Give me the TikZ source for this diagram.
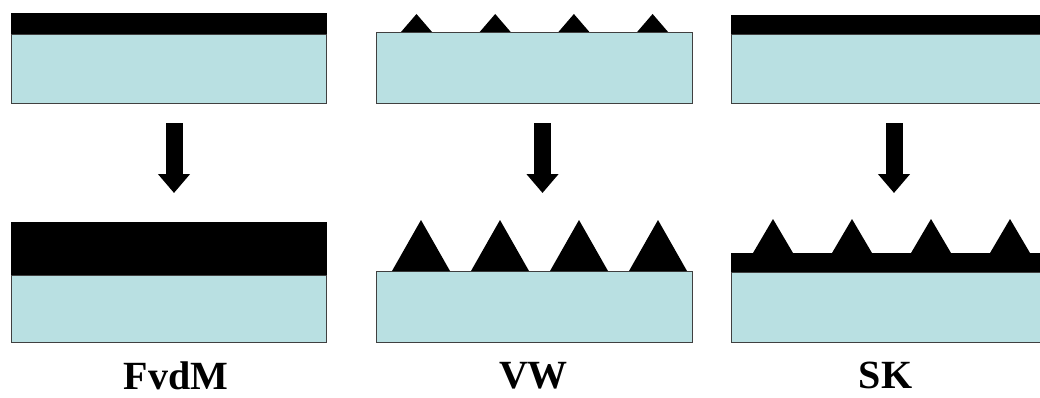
\documentclass[tikz,border=0pt]{standalone}
\usepackage{fontspec}
\setmainfont{Liberation Serif}
\usetikzlibrary{positioning,arrows.meta}
\definecolor{subcol}{RGB}{185,224,226}

\begin{document}
\begin{tikzpicture}[x=1pt,y=1pt,
    substrate/.style={draw=black!75, fill=subcol, line width=1pt, inner sep=0pt,
      anchor=south west, minimum width=315pt},
    film/.style={fill=black},
    bigarrow/.style={line width=17pt, -{Triangle[width=31pt,length=19pt]}},
    caption/.style={font=\fontsize{40}{48}\selectfont\bfseries, inner sep=0pt, text depth=0pt}]
  \clip (0,0) rectangle (1040,397);
  % before growth
  \node[substrate, minimum height=69pt] (s1) at (11,293) {};
  \node[substrate, minimum height=71pt, minimum width=316pt] (s2) at (376,293) {};
  \node[substrate, minimum height=69pt, minimum width=320pt] (s3) at (731,293) {};
  \fill[film] (s1.north west) rectangle ([yshift=21pt]s1.north east);
  \fill[film] (s3.north west) rectangle ([yshift=19pt]s3.north east);
  \foreach \i in {0,...,3}
    \fill[film] ([xshift={25+78.7*\i}]s2.north west) -- ++(15.5,18) -- ++(15.5,-18) -- cycle;
  % after growth
  \node[substrate, minimum height=67pt] (b1) at (11,54) {};
  \node[substrate, minimum height=71pt, minimum width=316pt] (b2) at (376,54) {};
  \node[substrate, minimum height=70pt, minimum width=320pt] (b3) at (731,54) {};
  \fill[film] (b1.north west) rectangle ([yshift=53pt]b1.north east);
  \fill[film] (b3.north west) rectangle ([yshift=19pt]b3.north east);
  \foreach \i in {0,...,3}
    \fill[film] ([xshift={16+79*\i}]b2.north west) -- ++(29,51) -- ++(29,-51) -- cycle;
  \foreach \i in {0,...,3}
    \fill[film] ([xshift={22+79*\i},yshift=19pt]b3.north west) -- ++(20,34) -- ++(20,-34) -- cycle;
  % arrows
  \draw[bigarrow] ([xshift=5pt,yshift=-19pt]s1.south) -- ++(0,-70);
  \draw[bigarrow] ([xshift=8pt,yshift=-19pt]s2.south) -- ++(0,-70);
  \draw[bigarrow] ([xshift=2.5pt,yshift=-19pt]s3.south) -- ++(0,-70);
  % labels
  \node[caption, below=19pt of b1, xshift=7pt] (l1) {FvdM};
  \node[caption, below=19pt of b2, xshift=-1pt] (l2) {VW};
  \node[caption, below=19pt of b3, xshift=-6pt] (l3) {SK};
\end{tikzpicture}
\end{document}
